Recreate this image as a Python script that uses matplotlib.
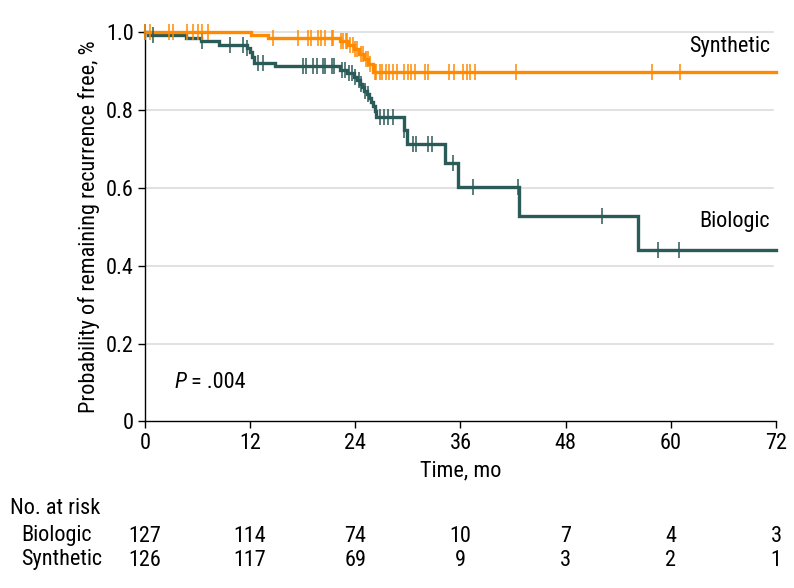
import numpy as np
import matplotlib
matplotlib.use('Agg')
import matplotlib.pyplot as plt
import matplotlib.font_manager as fm
import matplotlib.transforms as mtransforms

FONT = 'DejaVu Sans'
for name in ['Roboto Condensed', 'Liberation Sans Narrow', 'Open Sans Condensed', 'Liberation Sans']:
    try:
        fm.findfont(name, fallback_to_default=False)
        FONT = name
        break
    except Exception:
        continue
plt.rcParams['font.family'] = FONT

# Kaplan-Meier steps (time in months, survival)
syn_t = [0, 12.1, 14.0, 22.3, 23.2, 23.8, 24.4, 25.0, 25.5, 26.0]
syn_s = [1.0, 0.992, 0.984, 0.976, 0.967, 0.958, 0.945, 0.932, 0.918, 0.897]
syn_cens = [0.0, 0.6, 2.7, 3.2, 4.75, 5.5, 6.1, 6.45, 7.2, 14.6, 17.5, 18.6, 18.9,
            19.7, 20.1, 20.5, 21.3, 21.5, 22.4, 22.6, 22.9, 23.1, 23.4, 23.7, 24.0,
            24.2, 24.6, 24.9, 25.2, 25.4, 25.7, 26.2, 26.4, 26.8, 27.1, 27.5, 27.9,
            28.3, 28.7, 29.6, 30.0, 30.4, 30.8, 31.9, 32.3, 34.7, 35.3, 36.3, 36.7,
            37.1, 37.7, 42.3, 57.9, 61.1]

bio_t = [0, 0.4, 4.7, 6.4, 8.4, 11.6, 12.0, 12.2, 12.4, 14.8, 22.2, 23.0, 23.8,
         24.2, 24.5, 24.8, 25.0, 25.3, 25.6, 25.8, 26.0, 26.2, 26.4, 29.5, 29.9,
         34.2, 35.7, 42.7, 56.3]
bio_s = [1.0, 0.992, 0.984, 0.976, 0.968, 0.959, 0.950, 0.935, 0.921, 0.912, 0.903,
         0.894, 0.885, 0.876, 0.867, 0.858, 0.849, 0.840, 0.830, 0.820, 0.810, 0.798,
         0.783, 0.748, 0.712, 0.664, 0.603, 0.528, 0.440]
bio_cens = [0.0, 0.95, 6.45, 9.7, 11.2, 11.6, 12.9, 13.5, 18.0, 18.4, 19.2, 19.6,
            20.3, 20.5, 21.3, 21.6, 22.5, 22.8, 23.3, 23.6, 24.0, 24.4, 24.7, 25.1,
            25.5, 26.8, 27.3, 27.7, 28.3, 29.6, 30.6, 30.9, 32.3, 32.7, 35.1, 37.4,
            42.6, 52.2, 58.5, 60.9]

risk_times = [0, 12, 24, 36, 48, 60, 72]
risk_bio = [127, 114, 74, 10, 7, 4, 3]
risk_syn = [126, 117, 69, 9, 3, 2, 1]

T_END = 72
C_SYN = '#ff8a00'
C_BIO = '#2b5b58'
FS = 16

fig = plt.figure(figsize=(7.94, 5.88), dpi=100)
fig.subplots_adjust(left=0.1826, right=0.9773, bottom=0.2832, top=0.9473)
ax = fig.add_subplot(111)


def km(ax, t, s, cens, color):
    tt = list(t) + [T_END]
    ss = list(s) + [s[-1]]
    ax.step(tt, ss, where='post', color=color, lw=2.4, clip_on=False, zorder=3,
            solid_joinstyle='miter')
    idx = np.searchsorted(np.array(t), np.array(cens), side='right') - 1
    ax.plot(cens, np.array(s)[idx], ls='none', marker='|', ms=11, mew=1.1,
            color=color, clip_on=False, zorder=4)


km(ax, bio_t, bio_s, bio_cens, C_BIO)
km(ax, syn_t, syn_s, syn_cens, C_SYN)

ax.set_xlim(0, 72)
ax.set_ylim(0, 1.003)
ax.set_xticks(risk_times)
ax.set_yticks([0, 0.2, 0.4, 0.6, 0.8, 1.0])
ax.set_yticklabels(['0', '0.2', '0.4', '0.6', '0.8', '1.0'])
for y in [0.2, 0.4, 0.6, 0.8, 1.0]:
    ax.axhline(y, xmin=0, xmax=0.995, color='#d9d9d9', lw=1.1, zorder=1)
for sp in ['top', 'right']:
    ax.spines[sp].set_visible(False)
for sp in ['left', 'bottom']:
    ax.spines[sp].set_linewidth(1.0)
ax.tick_params(direction='out', length=5, width=1.0, labelsize=FS, pad=3)
ax.set_xlabel('Time, mo', fontsize=FS, labelpad=5)
ax.set_ylabel('Probability of remaining recurrence free, %', fontsize=FS, labelpad=4)

ax.text(71.3, 0.964, 'Synthetic', ha='right', va='center', fontsize=FS)
ax.text(71.3, 0.513, 'Biologic', ha='right', va='center', fontsize=FS)
ax.text(3.4, 0.099, 'P', ha='left', va='center', fontsize=FS, fontstyle='italic')
ax.text(5.2, 0.099, '= .004', ha='left', va='center', fontsize=FS)

# number at risk table
tr = mtransforms.blended_transform_factory(ax.transData, fig.transFigure)
fig.text(10 / 794, 1 - 508 / 588, 'No. at risk', ha='left', va='center', fontsize=FS)
fig.text(21 / 794, 1 - 536 / 588, 'Biologic', ha='left', va='center', fontsize=FS)
fig.text(21 / 794, 1 - 560 / 588, 'Synthetic', ha='left', va='center', fontsize=FS)
for x, b, s in zip(risk_times, risk_bio, risk_syn):
    ax.text(x, 1 - 536 / 588, str(b), transform=tr, ha='center', va='center', fontsize=FS)
    ax.text(x, 1 - 560 / 588, str(s), transform=tr, ha='center', va='center', fontsize=FS)

fig.savefig('out.png', dpi=100)
